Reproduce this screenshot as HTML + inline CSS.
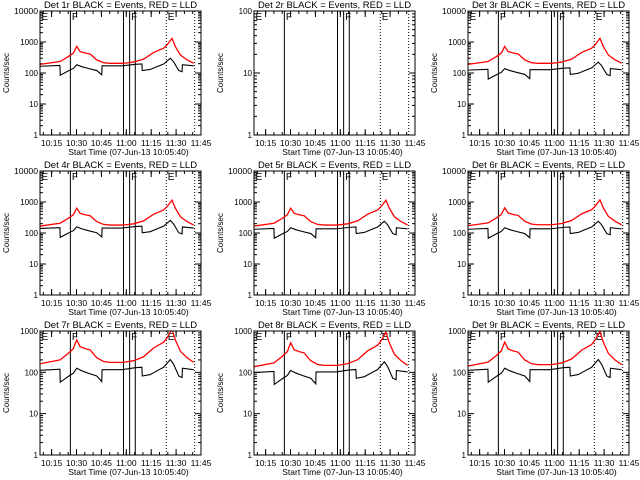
<!DOCTYPE html>
<html><head><meta charset="utf-8"><style>
body{margin:0;background:#fff;}
svg{display:block;font-family:"Liberation Sans",sans-serif;}
</style></head><body>
<svg id="c" width="640" height="480" viewBox="0 0 640 480"></svg>
<script>
// minutes after 10:08
const redT=[0,12.1,17.1,20.1,22.1,24.2,27.2,30.2,34.2,38.3,42.3,50.3,56.4,62.4,68.5,74.5,76.5,79.5,81.5,84.6,88.6,92.6];
const redV=[190,235,340,440,720,490,440,410,265,215,205,205,225,280,460,630,800,1300,720,380,265,205];
const blackT=[0,12.0,12.2,16.1,18.1,20.1,22.1,25.2,29.2,34.2,37.2,37.4,49.3,57.4,61.4,61.6,66.4,70.5,74.5,78.5,80.5,83.6,85.6,85.8,92.6];
const blackV=[165,175,85,110,125,140,185,160,140,120,88,170,170,190,195,120,130,160,195,300,230,120,110,185,170];
const detNames=["1r","2r","3r","4r","5r","6r","7r","8r","9r"];
const redScale=[1,0,1.0,0.88,0.88,0.9,0.85,0.72,0.75];
const blackScale=[1,0,0.75,0.85,0.8,0.8,0.68,0.6,0.68];
const yDecades=[4,2,4,4,4,4,3,3,3];
const xTickLabels=["10:15","10:30","10:45","11:00","11:15","11:30","11:45"];
const xTickMin=[7,22,37,52,67,82,97];
const solidLines=[18.3,50.3,54,57.4];
const dottedLines=[76.1,93.2];
const segLabels=["E","F","F","E"];
const segLabelT=[0.3,18.6,54.3,76.4];

const svg=document.getElementById('c');
const NS="http://www.w3.org/2000/svg";
function mk(tag,attrs,parent){const e=document.createElementNS(NS,tag);for(const k in attrs)e.setAttribute(k,attrs[k]);(parent||svg).appendChild(e);return e;}
const colX=[40,254,468],rowY=[11,171,331];
const PW=161,PH=124,TMAX=97;
for(let p=0;p<9;p++){
  const x0=colX[p%3],y0=rowY[Math.floor(p/3)];
  const g=mk('g',{});
  
  
  const D=yDecades[p];
  const xs=t=>x0+t/TMAX*PW;
  const ys=v=>y0+PH-Math.log10(Math.max(v,1))/D*PH;
  const t=mk('text',{x:x0+PW/2,y:y0-3,'font-size':9.5,'text-anchor':'middle',fill:'#000'},g);
  t.textContent='Det '+detNames[p]+' BLACK = Events, RED = LLD';
  
  
  const cp=mk('clipPath',{id:'cp'+p},g);mk('rect',{x:x0,y:y0,width:PW,height:PH},cp);
  for(let d=0;d<=D;d++){
    const y=ys(Math.pow(10,d));
    mk('line',{x1:x0,x2:x0+6,y1:y,y2:y,stroke:'#000'},g);
    mk('line',{x1:x0+PW-6,x2:x0+PW,y1:y,y2:y,stroke:'#000'},g);
    const s=String(Math.pow(10,d));
    const attrs={x:x0-2,y:y+3,'font-size':8,'text-anchor':'end'};
    if(s.length>=5){attrs.textLength=24;attrs.lengthAdjust='spacingAndGlyphs';}
    const l=mk('text',attrs,g);
    l.textContent=s;
    
    
    if(d<D)for(let m=2;m<10;m++){const ym=ys(m*Math.pow(10,d));
      mk('line',{x1:x0,x2:x0+3,y1:ym,y2:ym,stroke:'#000'},g);
      mk('line',{x1:x0+PW-3,x2:x0+PW,y1:ym,y2:ym,stroke:'#000'},g);}
  }
  const yt=mk('text',{x:0,y:0,'font-size':8,'text-anchor':'middle',transform:`translate(${x0-31},${y0+PH/2}) rotate(-90)`},g);
  yt.textContent='Counts/sec';
  
  
  xTickMin.forEach((m,i)=>{const x=xs(m);
    mk('line',{x1:x,x2:x,y1:y0+PH,y2:y0+PH-6,stroke:'#000'},g);
    mk('line',{x1:x,x2:x,y1:y0,y2:y0+6,stroke:'#000'},g);
    const l=mk('text',{x:x,y:y0+PH+11,'font-size':8.5,'text-anchor':'middle'},g);
    l.textContent=xTickLabels[i];
    
    
  });
  for(let m=2;m<TMAX;m+=5){const x=xs(m);
    mk('line',{x1:x,x2:x,y1:y0+PH,y2:y0+PH-3,stroke:'#000'},g);
    mk('line',{x1:x,x2:x,y1:y0,y2:y0+3,stroke:'#000'},g);}
  const xt=mk('text',{x:x0+PW/2+8,y:y0+PH+20,'font-size':8.5,'text-anchor':'middle'},g);
  xt.textContent='Start Time (07-Jun-13 10:05:40)';
  
  
  solidLines.forEach(m=>mk('line',{x1:xs(m),x2:xs(m),y1:y0,y2:y0+PH,stroke:'#000','stroke-width':1},g));
  dottedLines.forEach(m=>mk('line',{x1:xs(m),x2:xs(m),y1:y0,y2:y0+PH,stroke:'#000','stroke-dasharray':'1,2'},g));
  segLabelT.forEach((m,i)=>{const l=mk('text',{x:xs(m)+1,y:y0+9,'font-size':10},g);l.textContent=segLabels[i];
    
    });
  if(redScale[p]>0){
    const rp=mk('polyline',{points:redT.map((m,i)=>xs(m)+','+ys(redV[i]*redScale[p])).join(' '),fill:'none',stroke:'#f00','stroke-width':1.3,'clip-path':`url(#cp${p})`},g);
    
    
    const bp=mk('polyline',{points:blackT.map((m,i)=>xs(m)+','+ys(blackV[i]*blackScale[p])).join(' '),fill:'none',stroke:'#000','stroke-width':1.1,'clip-path':`url(#cp${p})`},g);
    
    
  }
  mk('rect',{x:x0,y:y0,width:PW,height:PH,fill:'none',stroke:'#000'},g);
}
</script>
</body></html>
